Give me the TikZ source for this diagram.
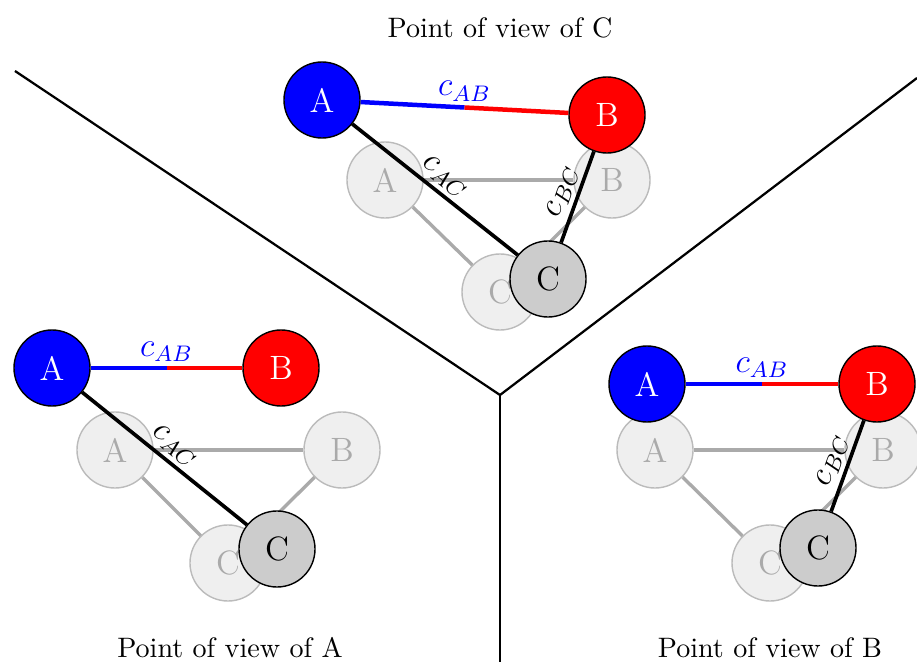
\documentclass[tikz,border=0pt]{standalone}
\usepackage{tikz}
\usetikzlibrary{calc,positioning}
\definecolor{ghostfill}{HTML}{EFEFEF}
\definecolor{ghostline}{HTML}{BBBBBB}
\definecolor{ghosttext}{HTML}{AAAAAA}
\definecolor{cgray}{HTML}{CCCCCC}
\tikzset{
  agent/.style={circle,draw=black,line width=0.5pt,minimum size=0.95cm,inner sep=0pt,font=\large},
  agA/.style={agent,fill=blue,text=white},
  agB/.style={agent,fill=red,text=white},
  agC/.style={agent,fill=cgray,text=black},
  ghost/.style={agent,draw=ghostline,fill=ghostfill,text=ghosttext},
  gedge/.style={ghosttext,line width=1.2pt},
  cedge/.style={black,line width=1.3pt},
  abedge/.style={line width=1.6pt},
  clabel/.style={inner sep=1.5pt,font=\large},
  wall/.style={black,line width=0.8pt}
}
\begin{document}
\begin{tikzpicture}[x=0.0125cm,y=-0.0125cm]
\useasboundingbox (0,0) rectangle (917,662);
% walls
\coordinate (mid) at (500,395);
\coordinate (wl) at (15,71);
\coordinate (wr) at (917,78);
\coordinate (wb) at (500,662);
\draw[wall] (wl) -- (mid) -- (wr);
\draw[wall] (mid) -- (wb);

% point of view of C
\node (tC) at (500,28) {Point of view of C};
\node[ghost] (gA1) at (385,180) {A};
\node[ghost] (gB1) at (612,180) {B};
\node[ghost] (gC1) at (500,292) {C};
\draw[gedge] (gA1) -- (gB1);
\draw[gedge] (gA1) -- (gC1);
\draw[gedge] (gB1) -- (gC1);
\node[agA] (A1) at (322,100) {A};
\node[agB] (B1) at (607,115) {B};
\node[agC] (C1) at (548,279) {C};
\path (A1) -- (B1) coordinate[midway] (m1);
\draw[abedge,blue] (A1) -- (m1);
\draw[abedge,red] (m1) -- (B1) node[clabel,blue,pos=0,above] {$c_{AB}$};
\draw[cedge] (A1) -- (C1) node[clabel,midway,sloped,above] {$c_{AC}$};
\draw[cedge] (C1) -- (B1) node[clabel,midway,sloped,above] {$c_{BC}$};

% point of view of A
\node (tA) at (230,648) {Point of view of A};
\node[ghost] (gA2) at (115,450) {A};
\node[ghost] (gB2) at (342,450) {B};
\node[ghost] (gC2) at (228,563) {C};
\draw[gedge] (gA2) -- (gB2);
\draw[gedge] (gA2) -- (gC2);
\draw[gedge] (gB2) -- (gC2);
\node[agA] (A2) at (52,368) {A};
\node[agB] (B2) at (281,368) {B};
\node[agC] (C2) at (277,549) {C};
\path (A2) -- (B2) coordinate[midway] (m2);
\draw[abedge,blue] (A2) -- (m2);
\draw[abedge,red] (m2) -- (B2) node[clabel,blue,pos=0,above] {$c_{AB}$};
\draw[cedge] (A2) -- (C2) node[clabel,midway,sloped,above] {$c_{AC}$};

% point of view of B
\node (tB) at (770,648) {Point of view of B};
\node[ghost] (gA3) at (655,450) {A};
\node[ghost] (gB3) at (883,450) {B};
\node[ghost] (gC3) at (770,563) {C};
\draw[gedge] (gA3) -- (gB3);
\draw[gedge] (gA3) -- (gC3);
\draw[gedge] (gB3) -- (gC3);
\node[agA] (A3) at (647,384) {A};
\node[agB] (B3) at (877,384) {B};
\node[agC] (C3) at (818,548) {C};
\path (A3) -- (B3) coordinate[midway] (m3);
\draw[abedge,blue] (A3) -- (m3);
\draw[abedge,red] (m3) -- (B3) node[clabel,blue,pos=0,above] {$c_{AB}$};
\draw[cedge] (C3) -- (B3) node[clabel,midway,sloped,above] {$c_{BC}$};
\end{tikzpicture}
\end{document}
